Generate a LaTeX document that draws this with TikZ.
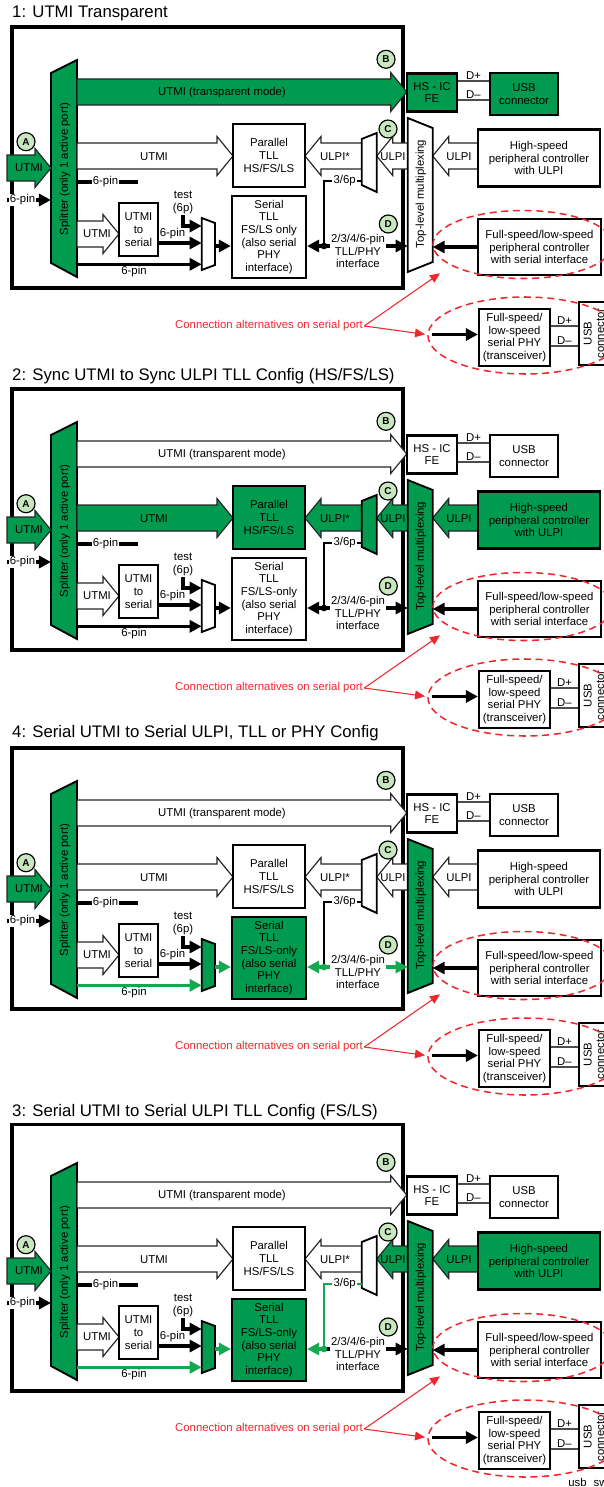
\documentclass[tikz,border=0pt]{standalone}
\usepackage{fontspec}
\setmainfont{Liberation Sans}
\usepackage{tikz}
\usetikzlibrary{arrows.meta, calc}
\definecolor{usbGreen}{HTML}{009B4E}
\definecolor{lineGreen}{HTML}{14A850}
\definecolor{tagGreen}{HTML}{C9E7BE}
\definecolor{noteRed}{HTML}{F0262D}

\newcommand\bodyfont{\fontsize{9.7}{10.8}\selectfont}

% hollow block arrow: fill, start x, tip x, centre y
\newcommand\blockarrow[4]{%
  \filldraw[barrow, fill=#1] ({#2},{#4-13}) -- ({#3-16*sign(#3-#2)},{#4-13})
    -- ({#3-16*sign(#3-#2)},{#4-19.5}) -- ({#3},{#4}) -- ({#3-16*sign(#3-#2)},{#4+19.5})
    -- ({#3-16*sign(#3-#2)},{#4+13}) -- ({#2},{#4+13}) -- cycle;}

% one configuration: title, title y, frame top, serial TLL line
\newcommand\usbpanel[4]{%
  \node[title, anchor=west] (ttl) at (12,#2) {#1};
  \draw[frame] (12,#3) rectangle (403,288);
  \filldraw[mux, fill=usbGreen] (51,73) -- (77,60) -- (77,277) -- (51,263) -- cycle;
  \coordinate (spL) at (51,168);
  \coordinate (spR) at (77,168);
  \coordinate (tmL) at (407.7,195);
  \coordinate (tmR) at (432.7,195);
  \coordinate (umL) at (361.7,162);
  \coordinate (smL) at (201.7,244);
  \coordinate (smR) at (215,244);
  \blockarrow{\cTr}{77}{406.7}{92}
  \blockarrow{\cPar}{77}{233}{156}
  \blockarrow{\cPar}{361.7}{305}{156}
  \blockarrow{\cUlpi}{407.7}{376.7}{156}
  \blockarrow{\cUlpi}{477.7}{432.7}{156}
  \blockarrow{usbGreen}{7}{51}{168}
  \blockarrow{white}{77}{119}{234}
  \filldraw[mux, fill=\cTop] (407.7,118) -- (432.7,128) -- (432.7,262) -- (407.7,272) -- cycle;
  \filldraw[mux, fill=\cPar] (361.7,139) -- (376.7,133) -- (376.7,192) -- (361.7,185) -- cycle;
  \filldraw[mux, fill=\cSer] (201.7,218) -- (215,223) -- (215,265) -- (201.7,270) -- cycle;
  \node[box, fill=\cTr, minimum width=1.5cm, minimum height=1.14cm] (hsfe) at (432,92.5) {HS - IC\\FE};
  \node[box, fill=\cTr, minimum width=2.04cm, minimum height=1.26cm] (usbc) at (524,94) {USB\\connector};
  \node[box, fill=\cPar, minimum width=2.16cm, minimum height=1.89cm] (ptll) at (269,155.5) {Parallel\\TLL\\HS/FS/LS};
  \node[box, fill=\cSer, minimum width=2.22cm, minimum height=2.46cm] (stll) at (269,237) {Serial\\TLL\\#4\\(also serial\\PHY\\interface)};
  \node[box, minimum width=1.17cm, minimum height=1.59cm] (u2s) at (138.5,229.5) {UTMI\\to\\serial};
  \node[box, fill=\cUlpi, minimum width=3.66cm, minimum height=1.71cm] (hsc) at (539,158) {High-speed\\peripheral controller\\with ULPI};
  \node[box, minimum width=3.69cm, minimum height=1.68cm] (fsc) at (539.5,247) {Full-speed/low-speed\\peripheral controller\\with serial interface};
  \node[box, minimum width=2.13cm, minimum height=1.71cm] (phy) at (514.5,337.5) {Full-speed/\\low-speed\\serial PHY\\(transceiver)};
  \node[box, minimum width=1.08cm, minimum height=1.89cm] (usbv) at (597,333.5) {};
  \node[lbl, rotate=90] (usbvt) at (594,333.5) {USB\\connector};
  \node[lbl] (ltr) at (222,93) {UTMI (transparent mode)};
  \node[lbl] (lpar) at (154,157) {UTMI};
  \node[lbl] (lus) at (335,157) {ULPI*};
  \node[lbl] (luc) at (393,157) {ULPI};
  \node[lbl] (luh) at (459,157) {ULPI};
  \node[lbl] (lin) at (29,168) {UTMI};
  \node[lbl] (lser) at (97,234) {UTMI};
  \node[lbl, rotate=90] (lsp) at (65,169) {Splitter (only 1 active port)};
  \node[lbl, rotate=90] (ltm) at (421,194) {Top-level multiplexing};
  \coordinate (pin) at (7,200);
  \draw[thk] (pin) -- (spL |- pin);
  \node[lbl, fill=white] (lpin) at (22.5,200) {6-pin};
  \coordinate (stub) at (138,182);
  \draw[thkline] (spR |- stub) -- (stub);
  \node[lbl, fill=white] (lstub) at (105.5,182) {6-pin};
  \node[lbl] (test) at (183,202.5) {test\\(6p)};
  \draw[thk] (test.south) |- (smL |- 0,226);
  \draw[thk] (u2s.east |- 0,243) -- (smL |- 0,243);
  \node[lbl] (l6a) at (172.5,233.5) {6-pin};
  \draw[thk, color=\cSl] (spR |- 0,264.3) -- (smL |- 0,264.3);
  \node[lbl] (l6b) at (134,272) {6-pin};
  \draw[thk, color=\cSl] (smR |- 0,246) -- (stll.west |- 0,246);
  \coordinate (jn) at (324,246);
  \draw[vline, color=\cV] (jn) |- (umL |- 0,181);
  \draw[thk, color=\cDl] (jn) -- (stll.east |- jn);
  \draw[thk, color=\cDr] (jn) -- (tmL |- jn);
  \fill[\cDl] (jn) circle[radius=0.1cm];
  \node[lbl, fill=white] (l36) at (344.7,181) {3/6p};
  \node[lbl, fill=white] (lD) at (358,251) {2/3/4/6-pin\\TLL/PHY\\interface};
  \draw[thk] (fsc.west) -- (tmR |- fsc.west);
  \coordinate (phyin) at (431.7,334.5);
  \draw[thk] (phyin) -- (phy.west |- phyin);
  \draw[dline] (hsfe.east |- 0,81) -- (usbc.west |- 0,81) node[lbl, midway, above, inner sep=0.5pt] (dp1) {D+};
  \draw[dline] (hsfe.east |- 0,100) -- (usbc.west |- 0,100) node[lbl, midway, above, inner sep=0.5pt] (dm1) {D--};
  \draw[dline] (phy.east |- 0,326) -- (usbv.west |- 0,326) node[lbl, midway, above, inner sep=0.5pt] (dp2) {D+};
  \draw[dline] (phy.east |- 0,346) -- (usbv.west |- 0,346) node[lbl, midway, above, inner sep=0.5pt] (dm2) {D--};
  \node[tag] (ta) at (26,141.7) {A};
  \node[tag] (tb) at (386,59.3) {B};
  \node[tag] (tc) at (388,129) {C};
  \node[tag] (td) at (388.3,224) {D};
  \draw[rdash] (523,244.5) ellipse [x radius=2.7cm, y radius=1.02cm];
  \draw[rdash] (525,335.5) ellipse [x radius=2.91cm, y radius=1.155cm];
  \node[lbl, text=noteRed] (note) at (269,326) {Connection alternatives on serial port};
  \coordinate (al1) at (440,273.3);
  \coordinate (al2) at (425,334.3);
  \draw[rarr] (note.east) -- (al1);
  \draw[rarr] (note.east) -- (al2);
}

\begin{document}
\begin{tikzpicture}[
  x=0.03cm, y=-0.03cm,
  title/.style={inner sep=0, text=black, font=\fontsize{14.3}{16}\selectfont},
  lbl/.style={inner sep=1pt, align=center, text=black, font=\bodyfont},
  frame/.style={line width=3.2pt},
  box/.style={draw, line width=1.9pt, fill=white, inner sep=1pt, align=center,
              text=black, font=\bodyfont},
  mux/.style={draw, line width=1.6pt},
  barrow/.style={draw=black!85, line width=1pt},
  thk/.style={line width=2.8pt, -{Triangle[length=0.36cm, width=0.36cm]}},
  thkline/.style={line width=2.8pt},
  vline/.style={line width=2pt},
  dline/.style={draw=black!70, line width=1pt},
  tag/.style={circle, draw, line width=1pt, fill=tagGreen, minimum size=0.54cm,
              inner sep=0, text=black, font=\fontsize{8.5}{9}\bfseries\selectfont},
  rdash/.style={draw=noteRed, line width=1.3pt, dash pattern=on 6pt off 4pt},
  rarr/.style={draw=noteRed, line width=0.9pt, -{Triangle[length=0.3cm, width=0.26cm]}},
]
  \useasboundingbox (0,0) rectangle (603,1487);

  \begin{scope}[name prefix=p1-]
    \def\cTr{usbGreen}\def\cPar{white}\def\cUlpi{white}\def\cTop{white}
    \def\cSer{white}\def\cSl{black}\def\cDl{black}\def\cDr{black}\def\cV{black}
    \usbpanel{1: UTMI Transparent}{13}{27}{FS/LS only}
  \end{scope}

  \begin{scope}[name prefix=p2-, shift={(0,362)}]
    \def\cTr{white}\def\cPar{usbGreen}\def\cUlpi{usbGreen}\def\cTop{usbGreen}
    \def\cSer{white}\def\cSl{black}\def\cDl{black}\def\cDr{black}\def\cV{black}
    \usbpanel{2: Sync UTMI to Sync ULPI TLL Config (HS/FS/LS)}{14}{27}{FS/LS-only}
  \end{scope}

  \begin{scope}[name prefix=p4-, shift={(0,721)}]
    \def\cTr{white}\def\cPar{white}\def\cUlpi{white}\def\cTop{usbGreen}
    \def\cSer{usbGreen}\def\cSl{lineGreen}\def\cDl{lineGreen}\def\cDr{lineGreen}\def\cV{black}
    \usbpanel{4: Serial UTMI to Serial ULPI, TLL or PHY Config}{12.3}{27}{FS/LS-only}
  \end{scope}

  \begin{scope}[name prefix=p3-, shift={(0,1103)}]
    \def\cTr{white}\def\cPar{white}\def\cUlpi{usbGreen}\def\cTop{usbGreen}
    \def\cSer{usbGreen}\def\cSl{lineGreen}\def\cDl{lineGreen}\def\cDr{black}\def\cV{lineGreen}
    \usbpanel{3: Serial UTMI to Serial ULPI TLL Config (FS/LS)}{8.7}{21.5}{FS/LS-only}
  \end{scope}

  \node[lbl, anchor=base west] (fname) at (567,1486) {usb\hspace{0.21cm}sw};
\end{tikzpicture}
\end{document}
